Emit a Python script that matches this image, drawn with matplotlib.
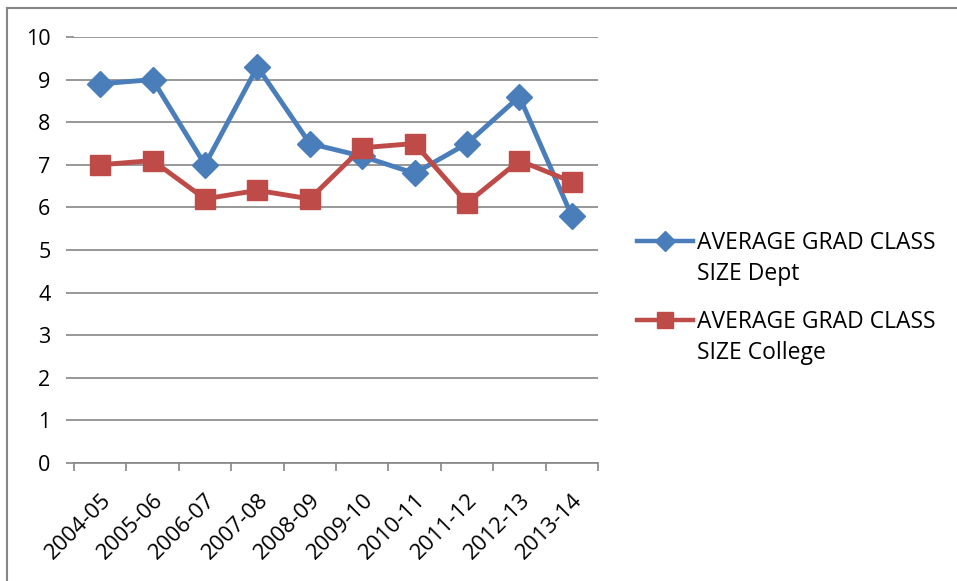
import matplotlib
matplotlib.use("Agg")
import matplotlib.pyplot as plt
import matplotlib.transforms as mtransforms
from matplotlib.lines import Line2D

years = ["2004-05", "2005-06", "2006-07", "2007-08", "2008-09",
         "2009-10", "2010-11", "2011-12", "2012-13", "2013-14"]
dept = [8.9, 9.0, 7.0, 9.3, 7.5, 7.2, 6.8, 7.5, 8.6, 5.8]
college = [7.0, 7.1, 6.2, 6.4, 6.2, 7.4, 7.5, 6.1, 7.1, 6.6]
dept_label = ["AVERAGE GRAD CLASS", "SIZE Dept"]
college_label = ["AVERAGE GRAD CLASS", "SIZE College"]

plt.rcParams['font.family'] = ['Open Sans', 'DejaVu Sans']

BLUE = '#4a7ebb'
RED = '#be4b48'
GRID = '#868686'

W, H = 957, 581
fig = plt.figure(figsize=(W / 100, H / 100), dpi=100)
ax = fig.add_axes([74 / W, 1 - 463 / H, (598 - 74) / W, (463 - 37) / H])

x = list(range(len(years)))
# (values, colour, marker, plot marker size, legend marker size, label)
series = [
    (dept, BLUE, 'D', 13, 10.5, dept_label),
    (college, RED, 's', 14, 11, college_label),
]
for vals, col, mk, ms, lms, lab in series:
    ax.plot(x, vals, color=col, lw=3.5, marker=mk, ms=ms,
            markeredgecolor=col, zorder=3)

ax.set_xlim(-0.5, len(years) - 0.5)
ax.set_ylim(0, 10)
ax.set_yticks(range(0, 11))
ax.yaxis.grid(True, color=GRID, lw=1.2)
ax.set_axisbelow(True)
for s in ['top', 'right', 'left']:
    ax.spines[s].set_visible(False)
ax.spines['bottom'].set_color(GRID)
ax.spines['bottom'].set_linewidth(1.2)

ax.set_xticks(x)
ax.set_xticklabels(years, rotation=45, ha='right', rotation_mode='anchor',
                   fontsize=16)
shift = mtransforms.ScaledTranslation(3 / 100, 0, fig.dpi_scale_trans)
for lbl in ax.get_xticklabels():
    lbl.set_transform(lbl.get_transform() + shift)
ax.set_xticks([i - 0.5 for i in range(len(years) + 1)], minor=True)
ax.tick_params(axis='x', which='major', length=0, pad=19)
ax.tick_params(axis='x', which='minor', length=6, color=GRID, width=1.2)
ax.tick_params(axis='y', length=6, color=GRID, width=1.2,
               labelsize=15.5, pad=11)

# legend drawn Excel-style: marker aligned with first text line
def fx(px):
    return px / W

def fy(py):
    return 1 - py / H

for i, (vals, col, mk, ms, lms, lab) in enumerate(series):
    y0 = 241 + i * 79
    fig.add_artist(Line2D([fx(637), fx(665), fx(693)], [fy(y0)] * 3,
                          transform=fig.transFigure, color=col, lw=3.2,
                          marker=mk, ms=lms, markevery=[1],
                          markeredgecolor=col))
    for j, line in enumerate(lab):
        fig.text(fx(697), fy(y0 + 8 + j * 31), line, fontsize=16.5,
                 va='baseline', ha='left')

# outer chart border (top and left visible)
fig.add_artist(Line2D([fx(7.5), fx(7.5)], [0, fy(7.5)],
                      transform=fig.transFigure, color=GRID, lw=1.5))
fig.add_artist(Line2D([fx(7.5), 1], [fy(7.5), fy(7.5)],
                      transform=fig.transFigure, color=GRID, lw=1.5))

fig.savefig("out.png", dpi=100)
